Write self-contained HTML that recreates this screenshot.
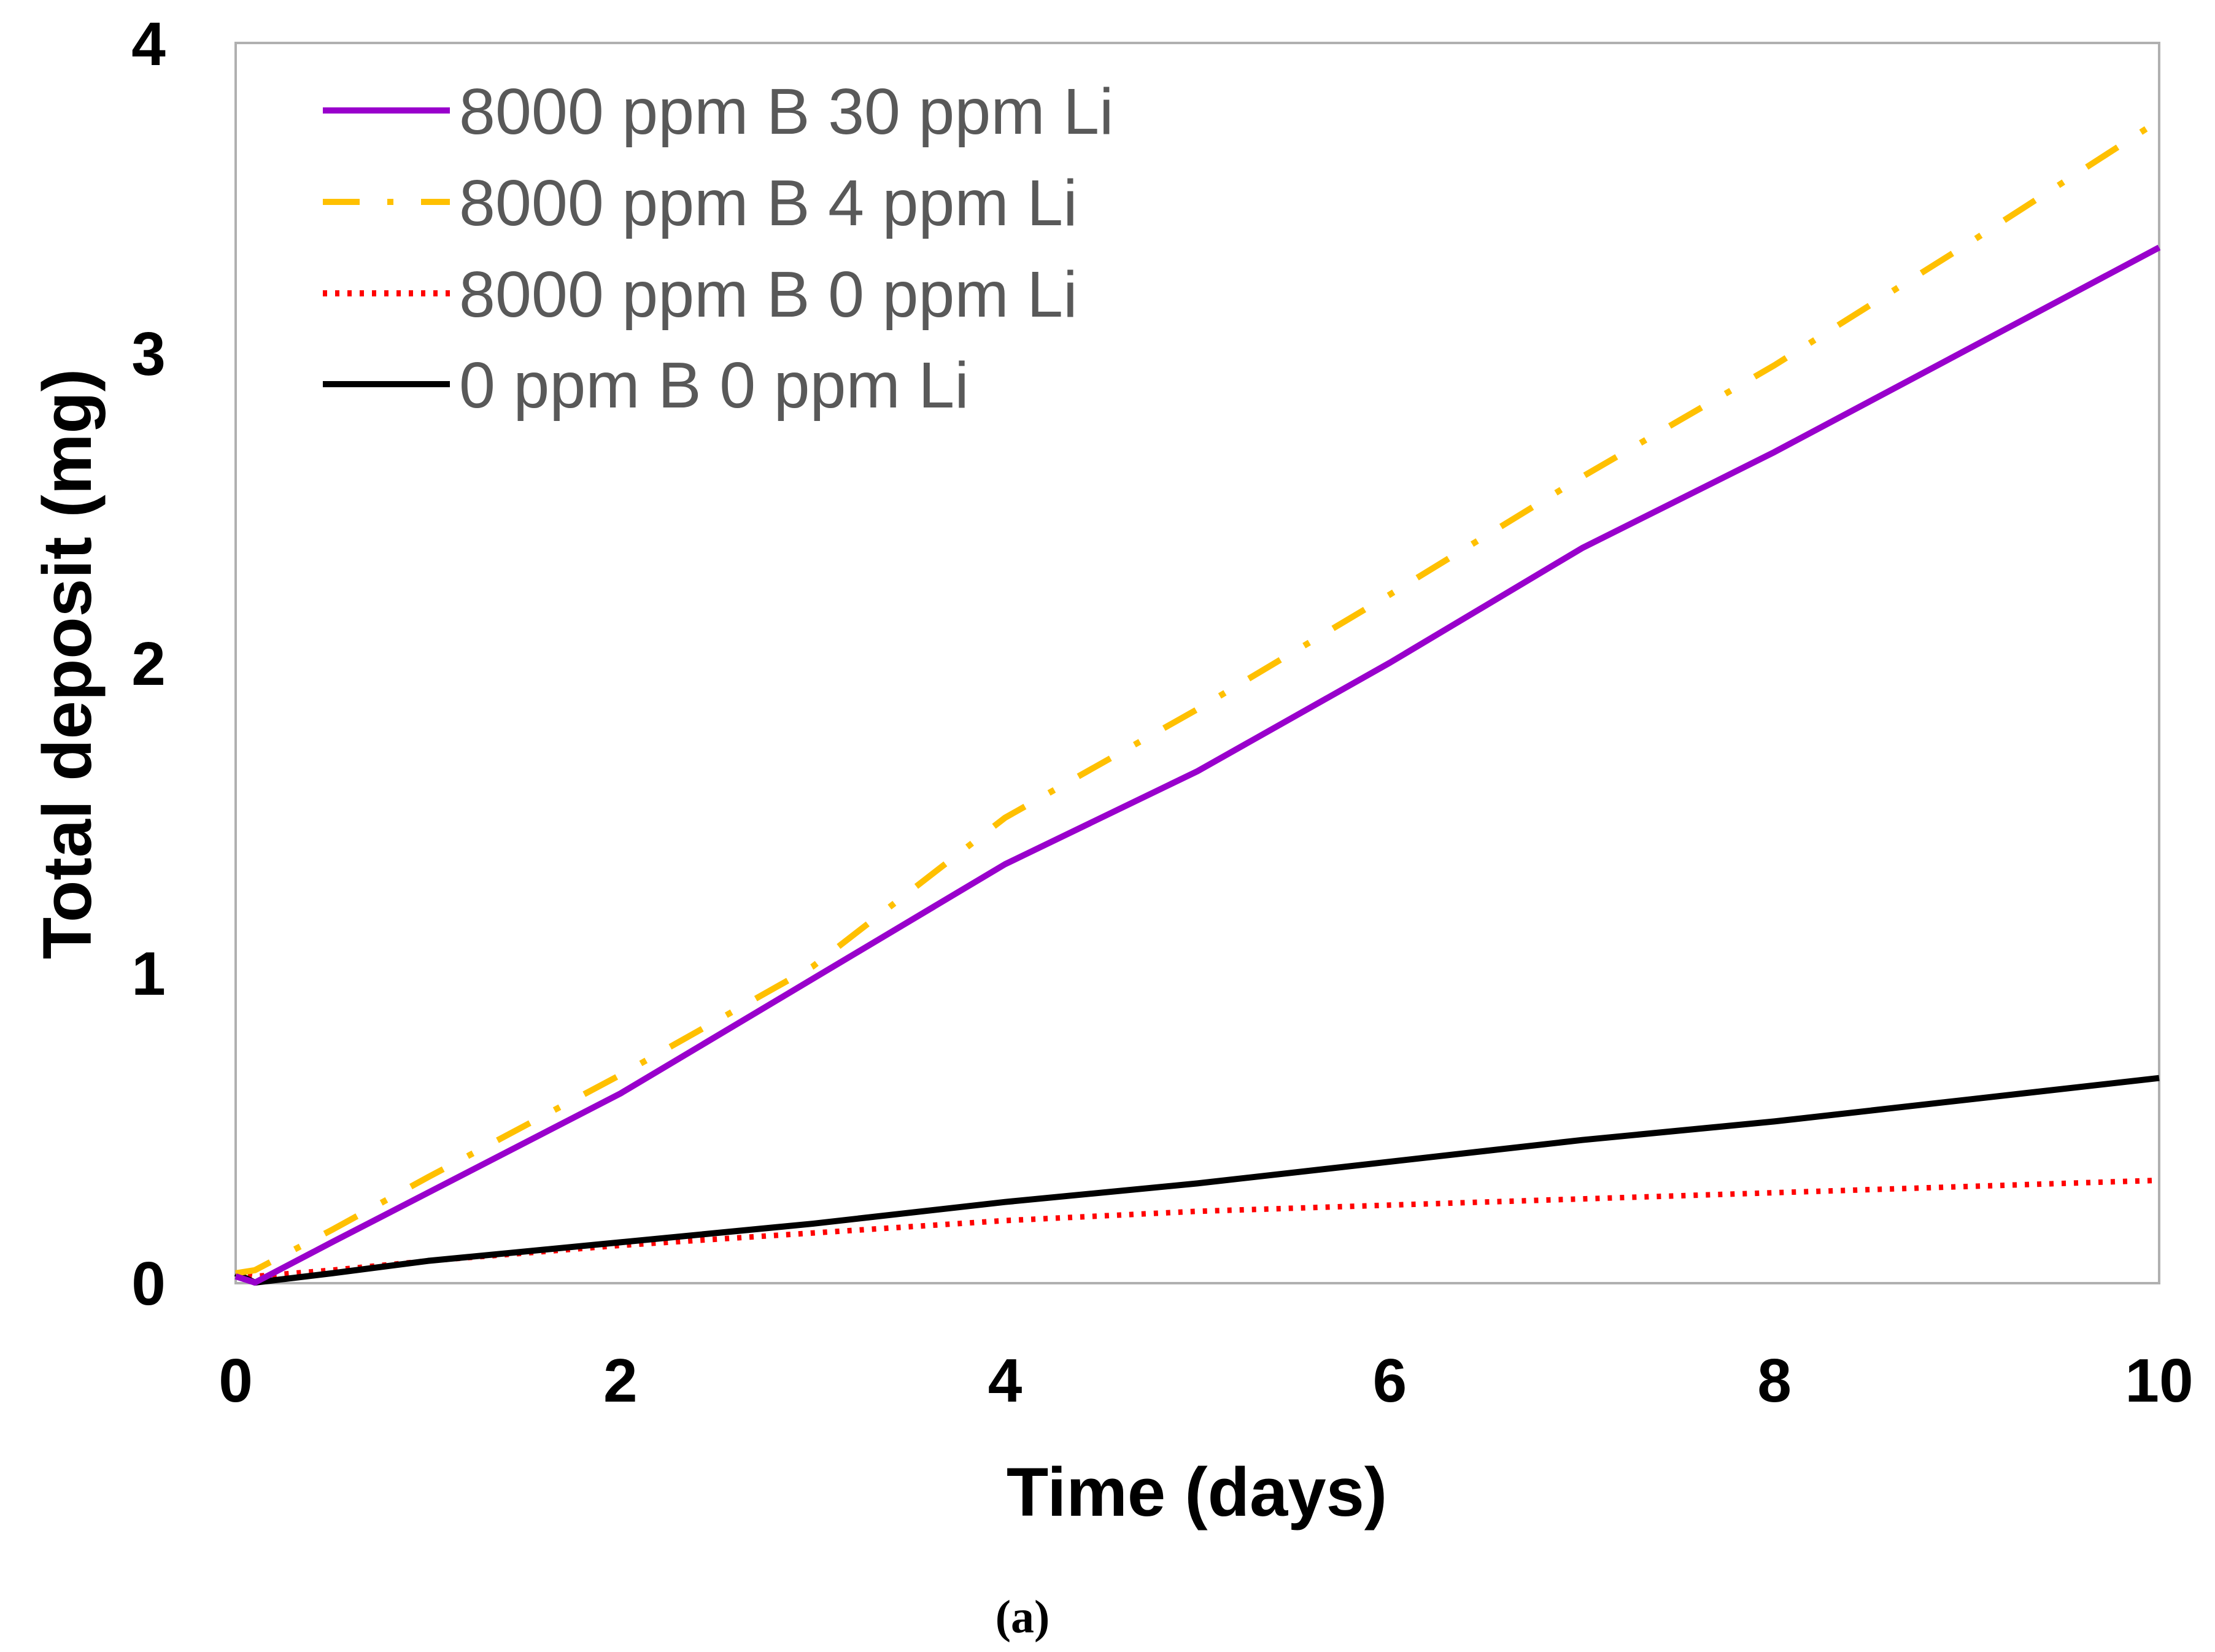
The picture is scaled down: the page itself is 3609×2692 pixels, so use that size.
<!DOCTYPE html>
<html><head><meta charset="utf-8"><style>
html,body{margin:0;padding:0;background:#fff;}
svg{display:block;}
</style></head><body>
<svg id="chart" width="3609" height="2692" viewBox="0 0 3609 2692" xmlns="http://www.w3.org/2000/svg">
<rect x="384" y="70" width="3134" height="2021" fill="none" stroke="#b0b0b0" stroke-width="4"/>
<g id="series"></g>
<g id="yticks" font-family="'Liberation Sans', sans-serif" font-weight="bold" font-size="100" text-anchor="middle"></g>
<g id="xticks" font-family="'Liberation Sans', sans-serif" font-weight="bold" font-size="100" text-anchor="middle"></g>
<text x="1950" y="2470" font-family="'Liberation Sans', sans-serif" font-weight="bold" font-size="112" text-anchor="middle">Time (days)</text>
<text transform="translate(148,1082) rotate(-90)" font-family="'Liberation Sans', sans-serif" font-weight="bold" font-size="112" text-anchor="middle">Total deposit (mg)</text>
<text x="1666" y="2660" font-family="'Liberation Serif', serif" font-weight="bold" font-size="76" text-anchor="middle">(a)</text>
<g id="legend" font-family="'Liberation Sans', sans-serif" font-size="106" fill="#595959"></g>
</svg>
<script>
const xTicks = [0, 2, 4, 6, 8, 10];
const yTicks = [0, 1, 2, 3, 4];
const seriesNames = ["8000 ppm B 30 ppm Li", "8000 ppm B 4 ppm Li", "8000 ppm B 0 ppm Li", "0 ppm B 0 ppm Li"];
const days = [0, 0.1, 0.5, 1, 2, 3, 4, 5, 6, 7, 8, 9, 10];
const li30 = [0.02, 0.0, 0.13, 0.29, 0.61, 0.98, 1.35, 1.65, 2.0, 2.37, 2.68, 3.01, 3.34];
const li4 = [0.03, 0.04, 0.17, 0.34, 0.67, 1.02, 1.5, 1.85, 2.22, 2.6, 2.96, 3.35, 3.75];
const li0 = [0.03, 0.02, 0.04, 0.07, 0.12, 0.16, 0.2, 0.23, 0.25, 0.27, 0.29, 0.31, 0.33];
const noB = [0.03, 0.0, 0.03, 0.07, 0.13, 0.19, 0.26, 0.32, 0.39, 0.46, 0.52, 0.59, 0.66];

const X0 = 384, X1 = 3518, Y0 = 2090, Y1 = 70;
function sx(v){ return X0 + (v - 0) / (10 - 0) * (X1 - X0); }
function sy(v){ return Y0 - (v - 0) / (4 - 0) * (Y0 - Y1); }
const NS = "http://www.w3.org/2000/svg";

const styles = [
  {color:"#9900CC", dash:null},
  {color:"#FFC000", dash:"60 45 10 45"},
  {color:"#FF0000", dash:"7 13"},
  {color:"#000000", dash:null}
];
const data = [li30, li4, li0, noB];
const seriesKeys = ["series-30ppm-li", "series-4ppm-li", "series-0ppm-li", "series-no-boron"];
const sg = document.getElementById("series");
[2, 3, 1, 0].forEach(function(i){
  const p = document.createElementNS(NS, "polyline");
  p.setAttribute("points", days.map(function(d, k){ return sx(d) + "," + sy(data[i][k]); }).join(" "));
  p.setAttribute("fill", "none");
  p.setAttribute("stroke", styles[i].color);
  p.setAttribute("stroke-width", i === 2 ? 9 : 10);
  if (styles[i].dash) p.setAttribute("stroke-dasharray", styles[i].dash);
  p.setAttribute("stroke-linejoin", "round");
  
  
  sg.appendChild(p);
});

const yg = document.getElementById("yticks");
yTicks.forEach(function(t){
  const el = document.createElementNS(NS, "text");
  el.setAttribute("x", 242);
  el.setAttribute("y", sy(t) + 36);
  el.textContent = String(t);
  
  
  yg.appendChild(el);
});
const xg = document.getElementById("xticks");
xTicks.forEach(function(t){
  const el = document.createElementNS(NS, "text");
  el.setAttribute("x", sx(t));
  el.setAttribute("y", 2284);
  el.textContent = String(t);
  
  
  xg.appendChild(el);
});

const lg = document.getElementById("legend");
const rowY = [180, 329, 478, 626];
seriesNames.forEach(function(name, i){
  const g = document.createElementNS(NS, "g");
  
  
  const l = document.createElementNS(NS, "line");
  l.setAttribute("x1", 526); l.setAttribute("x2", 733);
  l.setAttribute("y1", rowY[i]); l.setAttribute("y2", rowY[i]);
  l.setAttribute("stroke", styles[i].color);
  l.setAttribute("stroke-width", 10);
  if (styles[i].dash) l.setAttribute("stroke-dasharray", styles[i].dash);
  
  
  g.appendChild(l);
  const t = document.createElementNS(NS, "text");
  t.setAttribute("x", 748);
  t.setAttribute("y", rowY[i] + 38);
  t.textContent = name;
  
  
  g.appendChild(t);
  lg.appendChild(g);
});
</script>
</body></html>
